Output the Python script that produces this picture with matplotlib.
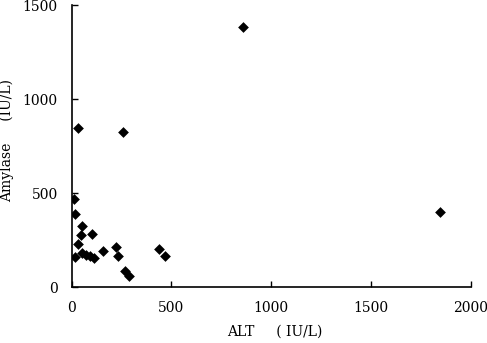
import matplotlib
matplotlib.use("Agg")
import matplotlib.pyplot as plt

alt = [30, 258, 858, 1845, 12, 17, 50, 45, 100, 33, 17, 50, 72, 92, 112,
       155, 220, 232, 267, 287, 437, 467]
amylase = [847, 823, 1385, 397, 467, 390, 326, 277, 280, 227, 158, 179, 170, 165, 153,
           193, 214, 165, 87, 60, 200, 165]

xticks = [0, 500, 1000, 1500, 2000]
yticks = [0, 500, 1000, 1500]

plt.rcParams['font.family'] = ['DejaVu Serif']

fig = plt.figure(figsize=(4.87, 3.43), dpi=100)
ax = fig.add_axes([0.147, 0.163, 0.820, 0.822])
ax.scatter(alt, amylase, marker='D', s=30, color='black', linewidths=0, zorder=3)
ax.set_xlim(0, 2000)
ax.set_ylim(0, 1500)
ax.set_xticks(xticks)
ax.set_yticks(yticks)
for s in ['top', 'right']:
    ax.spines[s].set_visible(False)
ax.spines['left'].set_linewidth(1.2)
ax.spines['bottom'].set_linewidth(1.2)
ax.tick_params(direction='in', length=4, width=1, labelsize=10)
ax.tick_params(axis='x', pad=10)
ax.tick_params(axis='y', pad=10)
ax.set_xlabel('ALT     ( IU/L)', fontsize=10)
ax.set_ylabel('Amylase     (IU/L)', fontsize=10)
ax.xaxis.set_label_coords(0.51, -0.135)
ax.yaxis.set_label_coords(-0.145, 0.52)
fig.savefig('out.png', dpi=100)
